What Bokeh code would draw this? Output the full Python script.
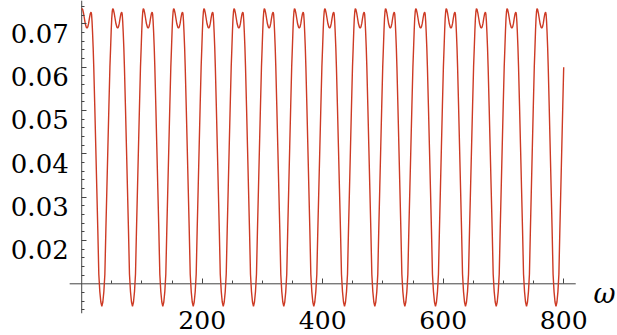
from bokeh.plotting import figure
from bokeh.models import Range1d, LinearAxis, FixedTicker, CustomJSTickFormatter
from bokeh.core.properties import value
from bokeh.embed import file_html
from bokeh.resources import INLINE

# Positions of the curve's minima (omega)
min_x = [33.4, 84.3, 134.6, 185.1, 234.9, 285.1, 335.4, 385.2, 436.2,
         486.5, 536.3, 587.2, 637.0, 688.0, 738.3, 787.2]

# Shape of one period: fraction of the way from one
# minimum to the next, and the value there
profile_phase = [0.0, 0.0329, 0.0658, 0.0987, 0.1316, 0.1645, 0.1974, 0.2303,
                 0.2632, 0.2862, 0.3059, 0.3224, 0.3388, 0.3553, 0.375, 0.4013,
                 0.4276, 0.4605, 0.4934, 0.5164, 0.5428, 0.5691, 0.5954, 0.6217,
                 0.648, 0.6645, 0.6809, 0.6974, 0.7171, 0.7368, 0.7697, 0.8026,
                 0.8355, 0.8684, 0.9013, 0.9342, 0.9671]
profile_value = [0.0048, 0.0058, 0.0082, 0.0122, 0.0225, 0.0320, 0.0415, 0.0510,
                 0.0600, 0.0645, 0.0685, 0.0712, 0.0728, 0.0735, 0.0733, 0.0725,
                 0.0714, 0.0700, 0.0692, 0.0690, 0.0693, 0.0701, 0.0713, 0.0723,
                 0.0727, 0.0722, 0.0705, 0.0680, 0.0645, 0.0600, 0.0510, 0.0415,
                 0.0320, 0.0225, 0.0122, 0.0082, 0.0058]

start_x, start_y = 0.0, 0.0733
end_x, end_y = 800.0, 0.0600

x_ticks = [200, 400, 600, 800]
x_tick_labels = ["200", "400", "600", "800"]
x_minor = [50, 100, 150, 250, 300, 350, 450, 500, 550, 650, 700, 750]
y_ticks = [0.02, 0.03, 0.04, 0.05, 0.06, 0.07]
y_tick_labels = ["0.02", "0.03", "0.04", "0.05", "0.06", "0.07"]
y_minor = [0.004, 0.006, 0.008, 0.012, 0.014, 0.016, 0.018, 0.022, 0.024, 0.026,
           0.028, 0.032, 0.034, 0.036, 0.038, 0.042, 0.044, 0.046, 0.048, 0.052,
           0.054, 0.056, 0.058, 0.062, 0.064, 0.066, 0.068, 0.072, 0.074]
x_label = "ω"
x_label_pos = 849.5

# plotted extent of the axes (Mathematica style, crossing at (0, 0.01))
x_axis_at = 0.01
y_axis_at = 0.0
x_axis_from, x_axis_to = -20.0, 820.0
y_axis_from, y_axis_to = 0.0032, 0.0754

# assemble the curve from the read values
xs, ys = [start_x], [start_y]
P0 = min_x[1] - min_x[0]
for ph, v in zip(profile_phase, profile_value):
    x = min_x[0] - (1 - ph) * P0
    if x > start_x:
        xs.append(x); ys.append(v)
for k in range(len(min_x) - 1):
    P = min_x[k + 1] - min_x[k]
    for ph, v in zip(profile_phase, profile_value):
        xs.append(min_x[k] + ph * P); ys.append(v)
P = min_x[-1] - min_x[-2]
for ph, v in zip(profile_phase, profile_value):
    x = min_x[-1] + ph * P
    if x < end_x:
        xs.append(x); ys.append(v)
xs.append(end_x); ys.append(end_y)

p = figure(width=617, height=335, output_backend="svg", toolbar_location=None,
           x_range=Range1d(-134.8, 889.3), y_range=Range1d(-0.00193, 0.07538),
           x_axis_type=None, y_axis_type=None,
           min_border_left=0, min_border_right=0, min_border_top=0,
           min_border_bottom=0)
p.outline_line_color = None
p.background_fill_color = "white"
p.border_fill_color = "white"

axis_color = "#444444"
font = "DejaVu Serif"

# axis lines over their own extent
p.segment(x0=[x_axis_from], y0=[x_axis_at], x1=[x_axis_to], y1=[x_axis_at],
          line_color=axis_color, line_width=1)
p.segment(x0=[y_axis_at], y0=[y_axis_from], x1=[y_axis_at], y1=[y_axis_to],
          line_color=axis_color, line_width=1)

# ticks from Bokeh axes (their own labels emptied; labels drawn as text below)
empty = CustomJSTickFormatter(code="return ''")
xaxis = LinearAxis(fixed_location=x_axis_at, formatter=empty,
                   ticker=FixedTicker(ticks=x_ticks, minor_ticks=x_minor))
yaxis = LinearAxis(fixed_location=y_axis_at,
                   formatter=CustomJSTickFormatter(code="return ''"),
                   ticker=FixedTicker(ticks=y_ticks, minor_ticks=y_minor))
for ax in (xaxis, yaxis):
    ax.axis_line_color = None
    ax.major_tick_line_color = axis_color
    ax.minor_tick_line_color = axis_color
    ax.major_tick_in = 5
    ax.major_tick_out = 0
    ax.minor_tick_in = 3
    ax.minor_tick_out = 0
    ax.major_label_text_color = None
    ax.major_label_text_font_size = "1px"
p.add_layout(xaxis, "below")
p.add_layout(yaxis, "left")

# tick labels
p.text(x=x_ticks, y=[x_axis_at] * len(x_ticks), text=x_tick_labels,
       text_font=value(font), text_font_size="25px", text_color="black",
       text_align="center", text_baseline="alphabetic", y_offset=36)
p.text(x=[y_axis_at] * len(y_ticks), y=y_ticks, text=y_tick_labels,
       text_font=value(font), text_font_size="26px", text_color="black",
       text_align="right", text_baseline="alphabetic", x_offset=-13, y_offset=9.5)

p.line(xs, ys, line_color="#cd3a24", line_width=1.4)

# axis label
p.text(x=[x_label_pos], y=[x_axis_at], text=[x_label], text_font=value(font),
       text_font_style="italic", text_font_size="27px", text_color="black",
       text_align="left", text_baseline="alphabetic", y_offset=10)

open("out.html", "w").write(file_html(p, INLINE))
